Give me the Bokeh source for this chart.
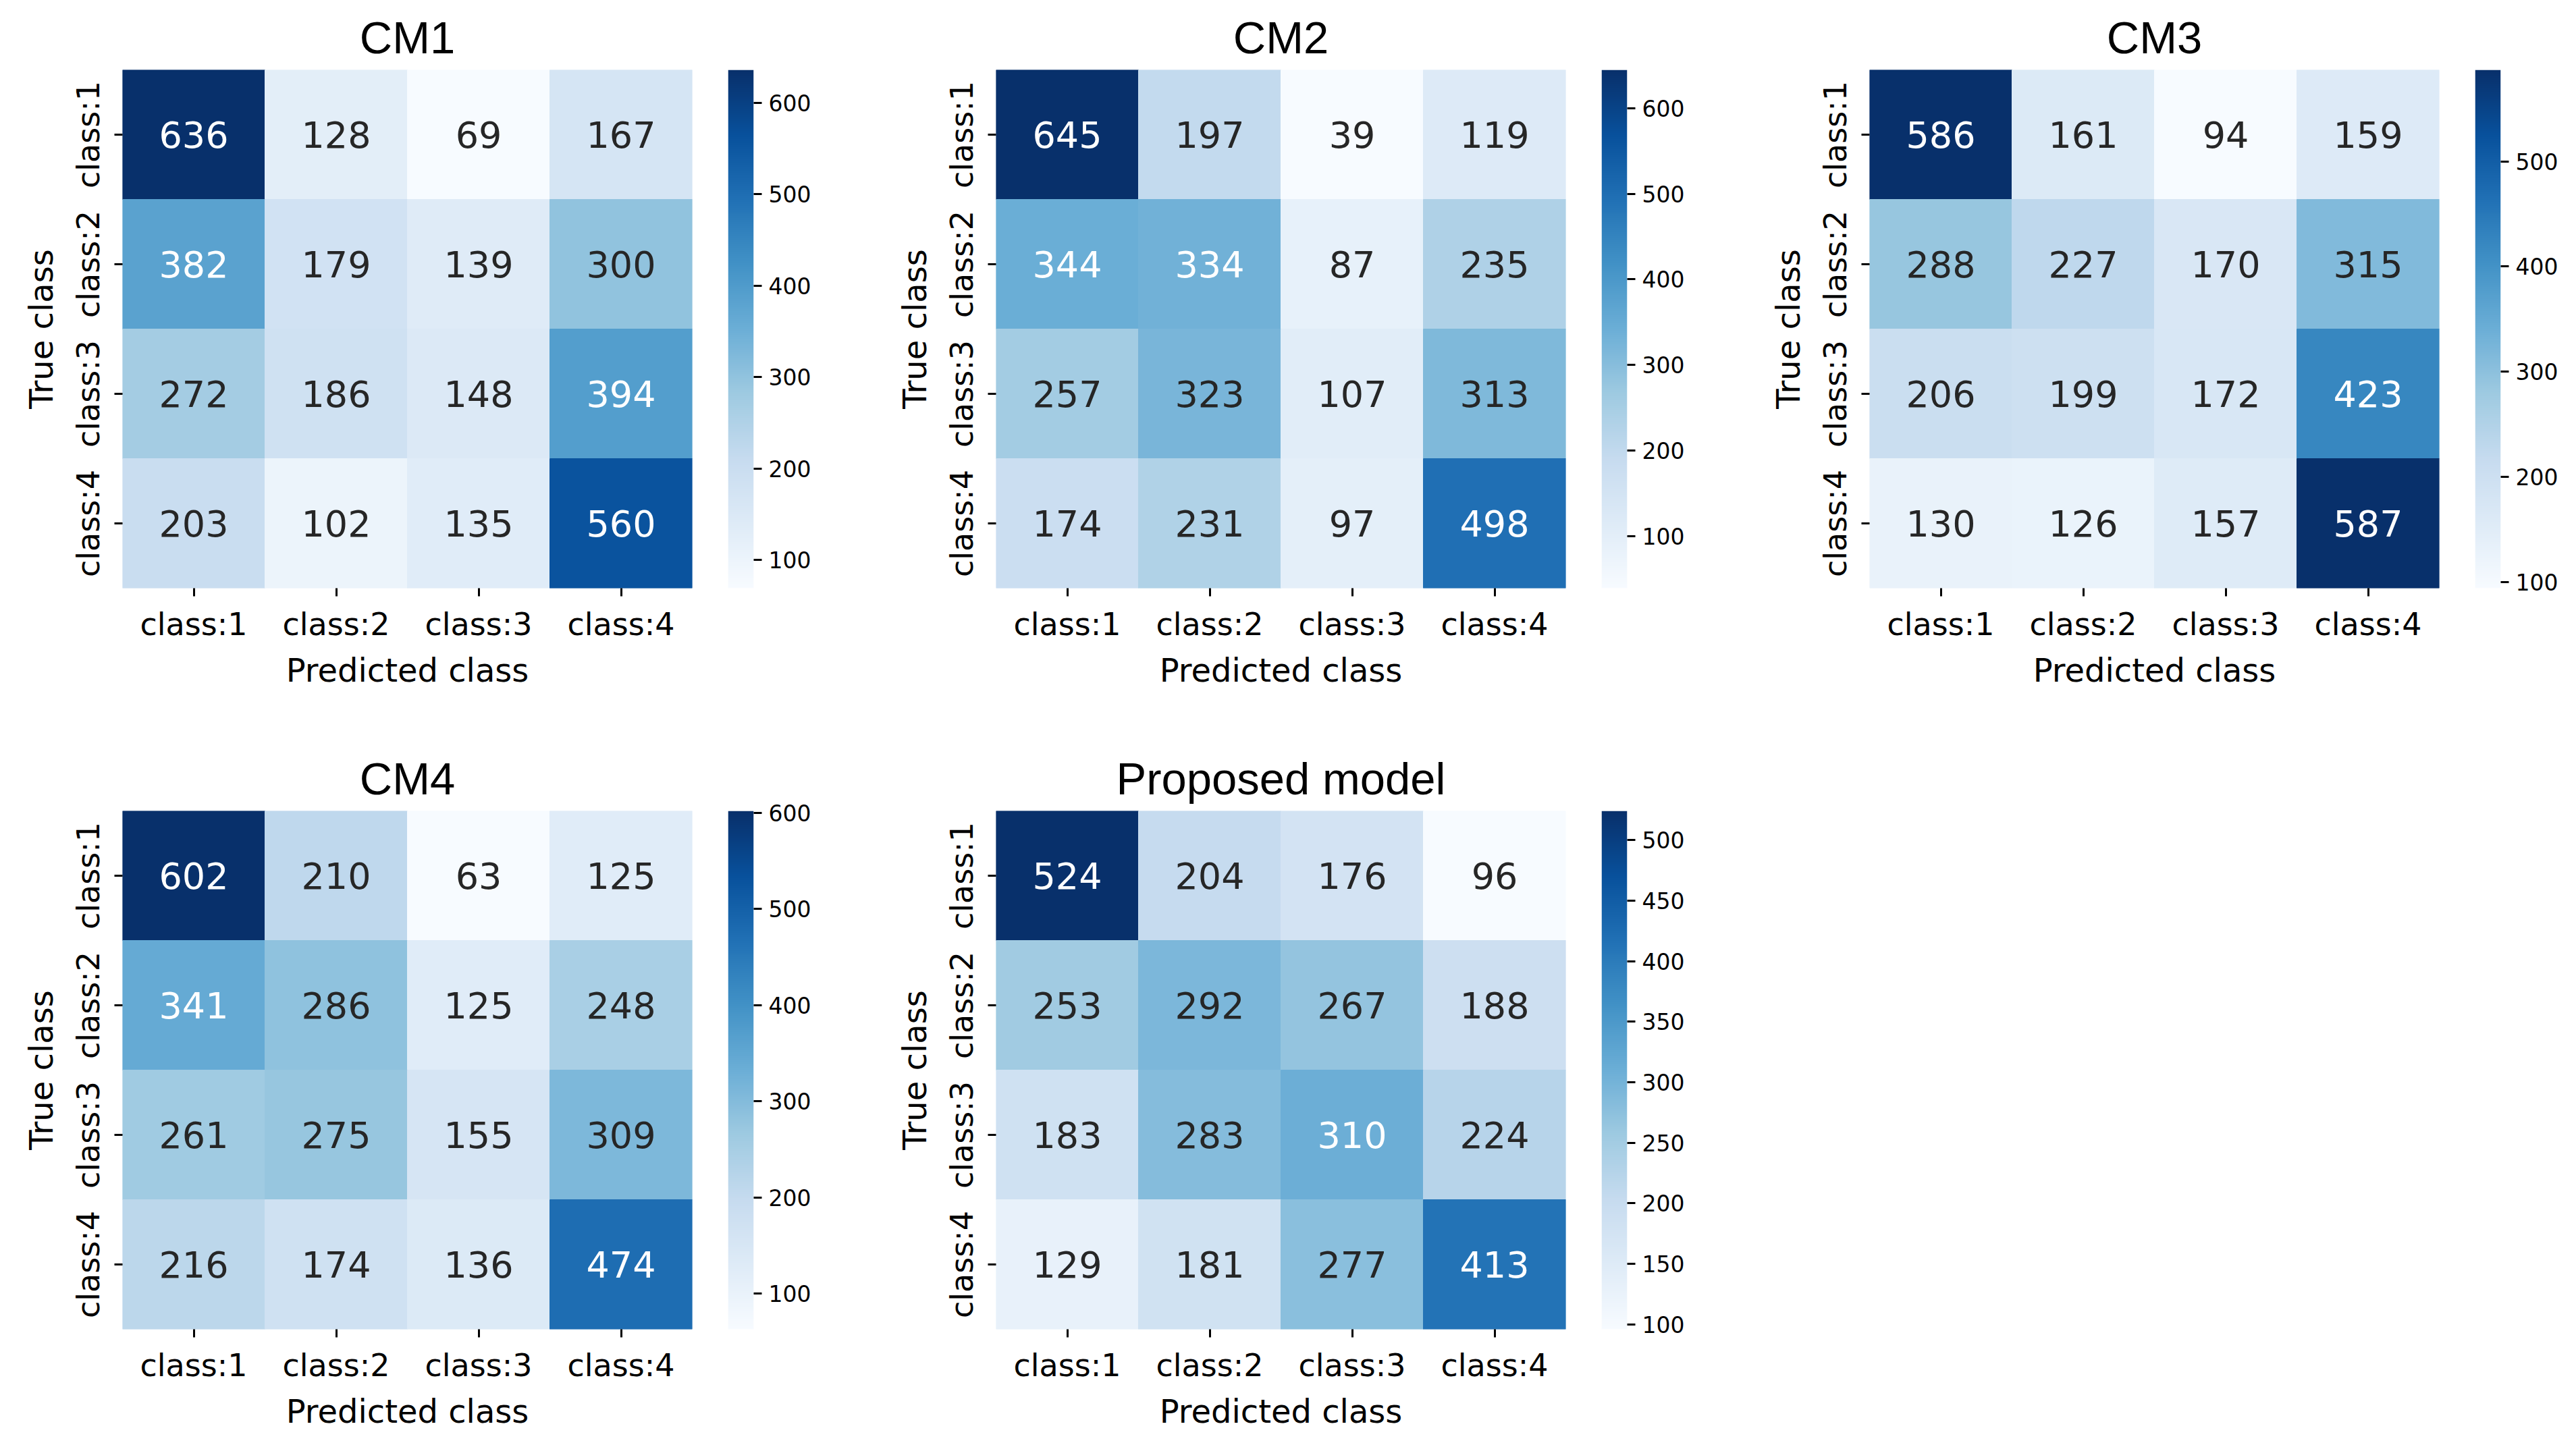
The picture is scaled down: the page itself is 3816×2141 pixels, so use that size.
import numpy as np
from bokeh.plotting import figure
from bokeh.layouts import row, column
from bokeh.models import LinearColorMapper, FixedTicker, Range1d, FactorRange, ColumnDataSource
from bokeh.transform import transform
from bokeh.core.properties import value
from bokeh.embed import file_html
from bokeh.resources import INLINE

# ---------------- data ----------------
classes = ["class:1", "class:2", "class:3", "class:4"]

cm1 = [[636, 128, 69, 167],
       [382, 179, 139, 300],
       [272, 186, 148, 394],
       [203, 102, 135, 560]]
cm2 = [[645, 197, 39, 119],
       [344, 334, 87, 235],
       [257, 323, 107, 313],
       [174, 231, 97, 498]]
cm3 = [[586, 161, 94, 159],
       [288, 227, 170, 315],
       [206, 199, 172, 423],
       [130, 126, 157, 587]]
cm4 = [[602, 210, 63, 125],
       [341, 286, 125, 248],
       [261, 275, 155, 309],
       [216, 174, 136, 474]]
proposed = [[524, 204, 176, 96],
            [253, 292, 267, 188],
            [183, 283, 310, 224],
            [129, 181, 277, 413]]

titles = ["CM1", "CM2", "CM3", "CM4", "Proposed model"]
cbar_ticks_cm1 = [100, 200, 300, 400, 500, 600]
cbar_ticks_cm2 = [100, 200, 300, 400, 500, 600]
cbar_ticks_cm3 = [100, 200, 300, 400, 500]
cbar_ticks_cm4 = [100, 200, 300, 400, 500, 600]
cbar_ticks_proposed = [100, 150, 200, 250, 300, 350, 400, 450, 500]

x_label = "Predicted class"
y_label = "True class"

# ---------------- colour map (matplotlib "Blues") ----------------
BLUES9 = ["#f7fbff", "#deebf7", "#c6dbef", "#9ecae1", "#6baed6",
          "#4292c6", "#2171b5", "#08519c", "#08306b"]


def build_palette(n=256):
    rgb = np.array([[int(c[i:i + 2], 16) for i in (1, 3, 5)] for c in BLUES9], float)
    xs = np.linspace(0, 1, len(BLUES9))
    out = []
    for t in np.linspace(0, 1, n):
        r, g, b = (np.interp(t, xs, rgb[:, k]) for k in range(3))
        out.append("#%02x%02x%02x" % (int(round(r)), int(round(g)), int(round(b))))
    return out


PAL = build_palette()


def cell_rgb(v, vmin, vmax):
    idx = int((v - vmin) / (vmax - vmin) * len(PAL))
    idx = min(max(idx, 0), len(PAL) - 1)
    c = PAL[idx]
    return [int(c[i:i + 2], 16) / 255 for i in (1, 3, 5)]


def text_color(rgb):
    lin = [c / 12.92 if c <= 0.03928 else ((c + 0.055) / 1.055) ** 2.4 for c in rgb]
    lum = 0.2126 * lin[0] + 0.7152 * lin[1] + 0.0722 * lin[2]
    return "#262626" if lum > 0.408 else "#ffffff"


# ---------------- geometry ----------------
FW, FH = 844, 768
BL, BT = 181, 103
GAP = 53
CBW = 38

TICK_FONT = "46px"
LABEL_FONT = "48px"
ANNOT_FONT = "54px"
TITLE_FONT = "67px"
CB_FONT = "33px"


def style_common(p):
    p.grid.visible = False
    p.outline_line_color = None
    p.background_fill_color = "white"
    p.border_fill_color = "white"


def panel(title, mat, cb_ticks, bottom, cb_right):
    vals = np.array(mat)
    vmin, vmax = int(vals.min()), int(vals.max())
    mapper = LinearColorMapper(palette=PAL, low=vmin, high=vmax)

    xs, ys, vs, labels, tcs = [], [], [], [], []
    for i, tr in enumerate(classes):
        for j, pr in enumerate(classes):
            v = mat[i][j]
            xs.append(pr)
            ys.append(tr)
            vs.append(v)
            labels.append(str(v))
            tcs.append(text_color(cell_rgb(v, vmin, vmax)))
    src = ColumnDataSource(dict(x=xs, y=ys, v=vs, label=labels, tc=tcs))

    p = figure(x_range=FactorRange(factors=classes),
               y_range=FactorRange(factors=classes[::-1]),
               frame_width=FW, frame_height=FH,
               min_border_left=BL, min_border_right=GAP,
               min_border_top=BT, min_border_bottom=bottom,
               output_backend="svg", toolbar_location=None, tools="",
               title=title)
    style_common(p)
    p.rect(x="x", y="y", width=1, height=1, source=src,
           fill_color=transform("v", mapper), line_color=transform("v", mapper),
           line_width=1)
    p.text(x="x", y="y", text="label", source=src, text_color="tc",
           text_font=value("DejaVu Sans"), text_font_size=ANNOT_FONT,
           text_align="center", text_baseline="middle")

    p.title.text_font = "Liberation Sans"
    p.title.text_font_size = TITLE_FONT
    p.title.text_font_style = "normal"
    p.title.align = "center"
    p.title.text_color = "black"
    p.title.standoff = 21

    for ax in (p.xaxis, p.yaxis):
        ax.axis_line_color = None
        ax.major_tick_in = 0
        ax.major_tick_out = 12
        ax.major_tick_line_width = 3
        ax.major_tick_line_color = "black"
        ax.minor_tick_line_color = None
        ax.major_label_text_font = "DejaVu Sans"
        ax.major_label_text_font_size = TICK_FONT
        ax.major_label_text_color = "black"
        ax.axis_label_text_font = "DejaVu Sans"
        ax.axis_label_text_font_size = LABEL_FONT
        ax.axis_label_text_font_style = "normal"
        ax.axis_label_text_color = "black"
    p.xaxis.axis_label = x_label
    p.yaxis.axis_label = y_label
    p.xaxis.major_label_standoff = 14
    p.yaxis.major_label_standoff = 12
    p.xaxis.axis_label_standoff = 10
    p.yaxis.axis_label_standoff = 12
    p.yaxis.major_label_orientation = "vertical"

    # colour bar as its own small figure
    c = figure(x_range=Range1d(0, 1), y_range=Range1d(vmin, vmax),
               frame_width=CBW, frame_height=FH,
               min_border_left=0, min_border_right=cb_right,
               min_border_top=BT, min_border_bottom=bottom,
               x_axis_location=None, y_axis_location="right",
               output_backend="svg", toolbar_location=None, tools="")
    style_common(c)
    ramp = np.linspace(vmin, vmax, 256).reshape(256, 1)
    c.image(image=[ramp], x=0, y=vmin, dw=1, dh=vmax - vmin, color_mapper=mapper)
    ax = c.yaxis
    ax.ticker = FixedTicker(ticks=cb_ticks)
    ax.axis_line_color = None
    ax.major_tick_in = 0
    ax.major_tick_out = 12
    ax.major_tick_line_width = 3
    ax.major_tick_line_color = "black"
    ax.minor_tick_line_color = None
    ax.major_label_standoff = 10
    ax.major_label_text_font = "DejaVu Sans"
    ax.major_label_text_font_size = CB_FONT
    ax.major_label_text_color = "black"
    return row(p, c)


top = row(
    panel(titles[0], cm1, cbar_ticks_cm1, 227, 178),
    panel(titles[1], cm2, cbar_ticks_cm2, 227, 178),
    panel(titles[2], cm3, cbar_ticks_cm3, 227, 92),
)
bottom = row(
    panel(titles[3], cm4, cbar_ticks_cm4, 152, 178),
    panel(titles[4], proposed, cbar_ticks_proposed, 152, 178),
)
layout = column(top, bottom)

open("out.html", "w").write(file_html(layout, INLINE, title="Confusion matrices"))
